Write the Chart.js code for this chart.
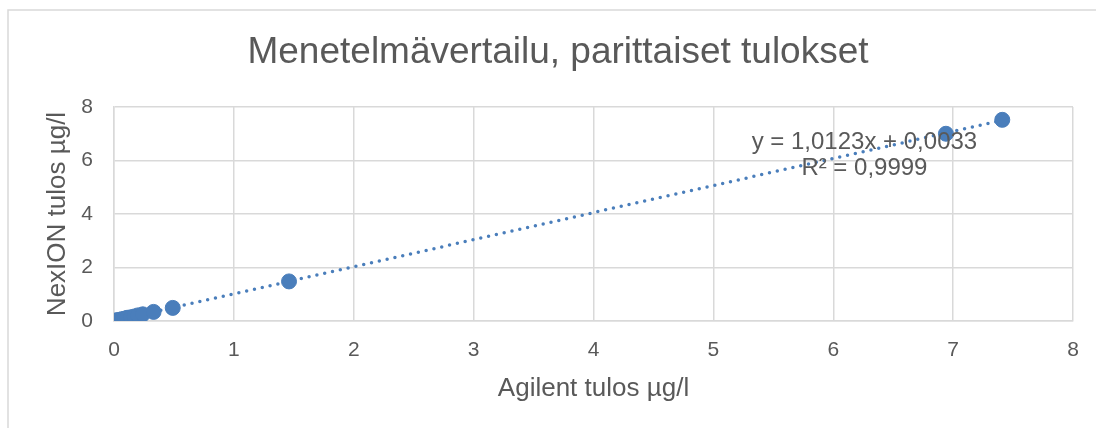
<!DOCTYPE html>
<html>
<head>
<meta charset="utf-8">
<script src="https://cdn.jsdelivr.net/npm/chart.js@4.4.0/dist/chart.umd.min.js"></script>
<style>
  body { margin: 0; background: #fff; }
  #wrap { width: 1096px; height: 428px; }
</style>
</head>
<body>
<div id="wrap"><canvas id="vertailu" width="1096" height="428"></canvas></div>
<script>
// paired results, Agilent vs NexION (µg/l)
var agilent = [0.00, 0.01, 0.02, 0.03, 0.05, 0.07, 0.09, 0.11, 0.14, 0.17, 0.20, 0.24, 0.33, 0.49, 1.46, 6.94, 7.41];
var nexion  = [0.00, 0.01, 0.02, 0.03, 0.05, 0.07, 0.09, 0.12, 0.14, 0.17, 0.21, 0.25, 0.34, 0.49, 1.48, 7.00, 7.52];

// linear trendline as printed on the chart
var trendSlope = 1.0123;
var trendIntercept = 0.0033;
var trendLabel = ["y = 1,0123x + 0,0033", "R² = 0,9999"];

var chartTitle = "Menetelmävertailu, parittaiset tulokset";
var xTicks = [0, 1, 2, 3, 4, 5, 6, 7, 8];
var yTicks = [0, 2, 4, 6, 8];

var blue = "#4a7ebb";
var grey = "#595959";
var gridCol = "#d9d9d9";
var fontName = "'Liberation Sans', Arial, sans-serif";

var points = [];
for (var i in agilent) {
    points.push({x: agilent[i], y: nexion[i]});
}

var xMin = Math.min.apply(null, agilent);
var xMax = Math.max.apply(null, agilent);
var trend = [
    {x: xMin, y: trendSlope * xMin + trendIntercept},
    {x: xMax, y: trendSlope * xMax + trendIntercept}
];

// white background, outer border and the title
var framePlugin = {
    id: "frame",
    beforeDraw: function(chart) {
        var ctx = chart.ctx;
        ctx.save();
        ctx.fillStyle = "#fff";
        ctx.fillRect(0, 0, chart.width, chart.height);
        ctx.strokeStyle = gridCol;
        ctx.lineWidth = 1.5;
        ctx.strokeRect(8, 10, 1200, 600);
        ctx.fillStyle = grey;
        ctx.font = "37px " + fontName;
        ctx.textAlign = "center";
        ctx.textBaseline = "middle";
        ctx.fillText(chartTitle, 558, 53);
        ctx.restore();
    }
};

var labelPlugin = {
    id: "trendText",
    afterDraw: function(chart) {
        var ctx = chart.ctx;
        var xs = chart.scales.x, ys = chart.scales.y;
        var cx = xs.getPixelForValue(6.26);
        ctx.save();
        ctx.fillStyle = grey;
        ctx.font = "24px " + fontName;
        ctx.textAlign = "center";
        ctx.textBaseline = "middle";
        ctx.fillText(trendLabel[0], cx, ys.getPixelForValue(6.69));
        ctx.fillText(trendLabel[1], cx, ys.getPixelForValue(5.72));
        ctx.restore();
    }
};

var ctx = document.getElementById("vertailu");

var scatterChart = new Chart(ctx, {
    type: "scatter",
    data: {
        datasets: [
            {
                label: "trend",
                type: "line",
                data: trend,
                borderColor: blue,
                borderWidth: 3.5,
                borderDash: [0, 8],
                borderCapStyle: "round",
                pointRadius: 0,
                fill: false,
                order: 2
            },
            {
                label: "tulokset",
                data: points,
                backgroundColor: blue,
                borderColor: blue,
                pointRadius: 7.5,
                pointHoverRadius: 7.5,
                order: 1
            }
        ]
    },
    options: {
        responsive: false,
        animation: false,
        devicePixelRatio: 1,
        layout: { padding: { left: 0, right: 23, top: 107, bottom: 0 } },
        plugins: {
            legend: { display: false },
            tooltip: { enabled: false },
            title: { display: false }
        },
        scales: {
            x: {
                type: "linear",
                min: 0,
                max: 8,
                afterBuildTicks: function(scale) {
                    scale.ticks = xTicks.map(function(v) { return {value: v}; });
                },
                afterFit: function(scale) { scale.height = 107; },
                grid: { color: gridCol, lineWidth: 1.5, drawTicks: false },
                border: { color: gridCol, width: 1.5 },
                ticks: { color: grey, padding: 17, font: { family: fontName, size: 21 } },
                title: {
                    display: true,
                    text: "Agilent tulos µg/l",
                    color: grey,
                    font: { family: fontName, size: 26 },
                    padding: { top: 0, bottom: 24 }
                }
            },
            y: {
                type: "linear",
                min: 0,
                max: 8,
                afterBuildTicks: function(scale) {
                    scale.ticks = yTicks.map(function(v) { return {value: v}; });
                },
                afterFit: function(scale) { scale.width = 114; },
                grid: { color: gridCol, lineWidth: 1.5, drawTicks: false },
                border: { color: gridCol, width: 1.5 },
                ticks: { color: grey, padding: 21, font: { family: fontName, size: 21 } },
                title: {
                    display: true,
                    text: "NexION tulos µg/l",
                    color: grey,
                    font: { family: fontName, size: 26 },
                    padding: { top: 42, bottom: 0 }
                }
            }
        }
    },
    plugins: [framePlugin, labelPlugin]
});
</script>
</body>
</html>
